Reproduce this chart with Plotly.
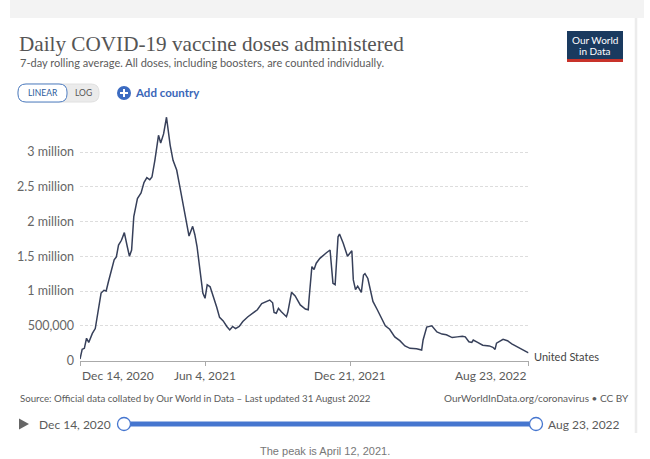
import plotly.graph_objects as go

# ---------------- data ----------------
dates = ["2020-12-14","2020-12-17","2020-12-20","2020-12-23","2020-12-26","2020-12-31","2021-01-04","2021-01-07","2021-01-09","2021-01-12",
         "2021-01-16","2021-01-19","2021-01-22","2021-01-26","2021-01-30","2021-02-02","2021-02-05","2021-02-09","2021-02-13","2021-02-17",
         "2021-02-20","2021-02-23","2021-02-26","2021-03-03","2021-03-08","2021-03-12","2021-03-16","2021-03-20","2021-03-23","2021-03-27",
         "2021-03-29","2021-04-01","2021-04-04","2021-04-08","2021-04-12","2021-04-17","2021-04-21","2021-04-26","2021-04-30","2021-05-05",
         "2021-05-09","2021-05-13","2021-05-18","2021-05-21","2021-05-24","2021-05-28","2021-06-01","2021-06-04","2021-06-07","2021-06-11",
         "2021-06-15","2021-06-20","2021-06-24","2021-06-29","2021-07-04","2021-07-08","2021-07-12","2021-07-16","2021-07-21","2021-07-26",
         "2021-08-02","2021-08-09","2021-08-15","2021-08-21","2021-08-27","2021-09-01","2021-09-05","2021-09-07","2021-09-10","2021-09-13",
         "2021-09-17","2021-09-24","2021-09-26","2021-10-01","2021-10-06","2021-10-13","2021-10-20","2021-10-24","2021-10-25","2021-10-29",
         "2021-11-01","2021-11-04","2021-11-09","2021-11-13","2021-11-18","2021-11-23","2021-11-25","2021-11-27","2021-11-30","2021-12-02",
         "2021-12-04","2021-12-06","2021-12-11","2021-12-17","2021-12-20","2021-12-23","2021-12-25","2021-12-28","2021-12-31","2022-01-03",
         "2022-01-05","2022-01-08","2022-01-10","2022-01-14","2022-01-18","2022-01-21","2022-01-27","2022-02-02","2022-02-07","2022-02-13",
         "2022-02-20","2022-02-27","2022-03-06","2022-03-13","2022-03-22","2022-03-29","2022-03-31","2022-04-05","2022-04-12","2022-04-19",
         "2022-04-26","2022-05-02","2022-05-10","2022-05-17","2022-05-24","2022-05-28","2022-06-02","2022-06-06","2022-06-08","2022-06-14",
         "2022-06-21","2022-06-30","2022-07-05","2022-07-08","2022-07-10","2022-07-19","2022-07-25","2022-07-31","2022-08-07","2022-08-16",
         "2022-08-23"]

doses = [20000,160000,175000,320000,260000,390000,460000,630000,770000,970000,
         1010000,1000000,1130000,1310000,1450000,1490000,1660000,1730000,1840000,1640000,
         1500000,1590000,2070000,2330000,2410000,2560000,2630000,2600000,2640000,2880000,
         3030000,3240000,3130000,3260000,3500000,3100000,2880000,2740000,2520000,2260000,
         2020000,1790000,1930000,1810000,1640000,1300000,970000,895000,1090000,1060000,
         940000,770000,620000,570000,490000,440000,490000,460000,490000,560000,
         630000,690000,730000,820000,850000,870000,830000,690000,680000,750000,
         700000,630000,700000,980000,930000,800000,740000,730000,870000,1350000,
         1310000,1400000,1470000,1500000,1550000,1590000,1350000,1110000,1090000,1490000,
         1780000,1820000,1690000,1500000,1550000,1580000,1160000,1020000,1070000,1010000,
         980000,1230000,1250000,1180000,1010000,850000,730000,590000,500000,450000,
         340000,285000,210000,175000,170000,150000,295000,480000,500000,410000,
         380000,370000,330000,340000,350000,340000,270000,260000,295000,260000,
         220000,210000,190000,160000,250000,305000,285000,240000,200000,160000,
         110000]

assert len(dates) == len(doses), (len(dates), len(doses))

country = "United States"
y_tickvals = [0, 500000, 1000000, 1500000, 2000000, 2500000, 3000000]
y_ticktext = ["0", "500,000", "1 million", "1.5 million", "2 million", "2.5 million", "3 million"]
x_tickvals = ["2020-12-14", "2021-06-04", "2021-12-21", "2022-08-23"]
x_ticktext = ["Dec 14, 2020", "Jun 4, 2021", "Dec 21, 2021", "Aug 23, 2022"]
x_tick_anchor = ["left", "center", "center", "right"]

title = "Daily COVID-19 vaccine doses administered"
subtitle = "7-day rolling average. All doses, including boosters, are counted individually."
source = "Source: Official data collated by Our World in Data – Last updated 31 August 2022"
license_txt = "OurWorldInData.org/coronavirus • CC BY"
caption = "The peak is April 12, 2021."
slider_start = "Dec 14, 2020"
slider_end = "Aug 23, 2022"

# ---------------- layout helpers ----------------
W, H = 650, 459
def X(px):
    return px / W
def Y(py):
    return 1 - py / H

FONT = "Lato"
GRAY = "#5b5b5b"

fig = go.Figure()
fig.add_trace(go.Scatter(x=dates, y=doses, mode="lines",
                         line=dict(color="#37405a", width=1.5),
                         name=country, showlegend=False,
                         hovertemplate="%{x|%b %d, %Y}: %{y:,.0f}<extra></extra>"))

shapes = []
annotations = []

# page decoration: gray strip at top and card edge
shapes.append(dict(type="rect", xref="paper", yref="paper", x0=X(10), x1=X(644), y0=Y(18), y1=Y(0),
                   fillcolor="#f3f3f3", line=dict(width=0), layer="below"))
shapes.append(dict(type="line", xref="paper", yref="paper", x0=X(636), x1=X(636), y0=Y(18), y1=Y(433),
                   line=dict(color="#ececec", width=2.5), layer="below"))

# title + subtitle
annotations.append(dict(text=title, xref="paper", yref="paper", x=X(17), y=Y(44), xanchor="left", yanchor="middle",
                        showarrow=False, font=dict(family="Liberation Serif", size=21.2, color="#555555")))
annotations.append(dict(text=subtitle, xref="paper", yref="paper", x=X(18), y=Y(62), xanchor="left", yanchor="middle",
                        showarrow=False, font=dict(family=FONT, size=11, color=GRAY)))

# logo
shapes.append(dict(type="rect", xref="paper", yref="paper", x0=X(567), x1=X(623), y0=Y(61), y1=Y(31),
                   fillcolor="#1a3a5f", line=dict(width=0)))
shapes.append(dict(type="rect", xref="paper", yref="paper", x0=X(567), x1=X(623), y0=Y(62), y1=Y(59),
                   fillcolor="#c8322a", line=dict(width=0)))
annotations.append(dict(text="Our World", xref="paper", yref="paper", x=X(595), y=Y(40), xanchor="center", yanchor="middle",
                        showarrow=False, font=dict(family=FONT, size=10, color="white")))
annotations.append(dict(text="in Data", xref="paper", yref="paper", x=X(595), y=Y(51), xanchor="center", yanchor="middle",
                        showarrow=False, font=dict(family=FONT, size=10, color="white")))

# LINEAR / LOG toggle (rounded pill)
def rounded(x0, y0, x1, y1, r):
    return (f"M {X(x0+r)} {Y(y0)} L {X(x1-r)} {Y(y0)} Q {X(x1)} {Y(y0)} {X(x1)} {Y(y0+r)} "
            f"L {X(x1)} {Y(y1-r)} Q {X(x1)} {Y(y1)} {X(x1-r)} {Y(y1)} L {X(x0+r)} {Y(y1)} "
            f"Q {X(x0)} {Y(y1)} {X(x0)} {Y(y1-r)} L {X(x0)} {Y(y0+r)} Q {X(x0)} {Y(y0)} {X(x0+r)} {Y(y0)} Z")
shapes.append(dict(type="path", xref="paper", yref="paper", path=rounded(18, 84, 99, 102, 8),
                   fillcolor="#ebebeb", line=dict(color="#e0e0e0", width=1)))
shapes.append(dict(type="path", xref="paper", yref="paper", path=rounded(18, 84, 67, 102, 8),
                   fillcolor="white", line=dict(color="#4f7ec2", width=1)))
annotations.append(dict(text="LINEAR", xref="paper", yref="paper", x=X(42.5), y=Y(93), xanchor="center", yanchor="middle",
                        showarrow=False, font=dict(family=FONT, size=8.5, color="#2c5a9b")))
annotations.append(dict(text="LOG", xref="paper", yref="paper", x=X(83), y=Y(93), xanchor="center", yanchor="middle",
                        showarrow=False, font=dict(family=FONT, size=8.5, color="#555555")))

# Add country
shapes.append(dict(type="circle", xref="paper", yref="paper", x0=X(117), x1=X(131), y0=Y(100), y1=Y(86),
                   fillcolor="#3c6bc1", line=dict(width=0)))
shapes.append(dict(type="line", xref="paper", yref="paper", x0=X(120), x1=X(128), y0=Y(93), y1=Y(93),
                   line=dict(color="white", width=2)))
shapes.append(dict(type="line", xref="paper", yref="paper", x0=X(124), x1=X(124), y0=Y(89), y1=Y(97),
                   line=dict(color="white", width=2)))
annotations.append(dict(text="<b>Add country</b>", xref="paper", yref="paper", x=X(133), y=Y(93), xanchor="left", yanchor="middle",
                        showarrow=False, font=dict(family=FONT, size=11.5, color="#3a66b8")))

# x tick labels, aligned like the original
for v, t, a in zip(x_tickvals, x_ticktext, x_tick_anchor):
    annotations.append(dict(text=t, x=v, xref="x", y=Y(375), yref="paper", xanchor=a, yanchor="middle",
                            showarrow=False, font=dict(family=FONT, size=12, color=GRAY)))

# series label at end of line
annotations.append(dict(text=country, x=dates[-1], y=doses[-1], xref="x", yref="y", xanchor="left", yanchor="middle",
                        xshift=3, yshift=-4, showarrow=False, font=dict(family=FONT, size=11, color="#444444")))

# footer
annotations.append(dict(text=source, xref="paper", yref="paper", x=X(18), y=Y(398), xanchor="left", yanchor="middle",
                        showarrow=False, font=dict(family=FONT, size=9.7, color=GRAY)))
annotations.append(dict(text=license_txt, xref="paper", yref="paper", x=X(631), y=Y(398), xanchor="right", yanchor="middle",
                        showarrow=False, font=dict(family=FONT, size=10, color=GRAY)))

# timeline slider
shapes.append(dict(type="path", xref="paper", yref="paper",
                   path=f"M {X(19)} {Y(418.5)} L {X(29)} {Y(424)} L {X(19)} {Y(429.5)} Z",
                   fillcolor="#666666", line=dict(width=0)))
annotations.append(dict(text=slider_start, xref="paper", yref="paper", x=X(37), y=Y(424), xanchor="left", yanchor="middle",
                        showarrow=False, font=dict(family=FONT, size=12, color=GRAY)))
annotations.append(dict(text=slider_end, xref="paper", yref="paper", x=X(622), y=Y(424), xanchor="right", yanchor="middle",
                        showarrow=False, font=dict(family=FONT, size=12, color=GRAY)))
shapes.append(dict(type="rect", xref="paper", yref="paper", x0=X(124), x1=X(536), y0=Y(426.5), y1=Y(421.5),
                   fillcolor="#4676cf", line=dict(width=0)))
for cx in (124, 536):
    shapes.append(dict(type="circle", xref="paper", yref="paper", x0=X(cx - 6.5), x1=X(cx + 6.5), y0=Y(430.5), y1=Y(417.5),
                       fillcolor="white", line=dict(color="#4676cf", width=1.3)))

# caption below card
annotations.append(dict(text=caption, xref="paper", yref="paper", x=X(325), y=Y(451), xanchor="center", yanchor="middle",
                        showarrow=False, font=dict(family="Liberation Sans", size=11, color="#777777")))

fig.update_layout(
    width=W, height=H,
    margin=dict(l=0, r=0, t=0, b=0, autoexpand=False),
    paper_bgcolor="white", plot_bgcolor="white",
    showlegend=False,
    shapes=shapes, annotations=annotations,
    xaxis=dict(domain=[X(80), X(528.5)], type="date",
               range=["2020-12-14", "2022-08-23"],
               tickvals=x_tickvals, showticklabels=False,
               ticks="outside", ticklen=4, tickcolor="#aaaaaa",
               showgrid=False, showline=True, linecolor="#aaaaaa", linewidth=1,
               zeroline=False, fixedrange=True),
    yaxis=dict(domain=[Y(360.5), Y(110)], range=[0, (360.5 - 110) / 69.5 * 1e6],
               tickvals=y_tickvals, ticktext=y_ticktext,
               tickfont=dict(family=FONT, size=12.5, color="#666666"),
               ticks="", ticklabelstandoff=5,
               showgrid=True, gridcolor="#dddddd", griddash="3px,2px", gridwidth=1,
               zeroline=False, showline=False, fixedrange=True),
)

fig.write_html("out.html",
               config={"displayModeBar": False},
               post_script="document.body.style.margin='0';document.body.style.overflow='hidden';")
